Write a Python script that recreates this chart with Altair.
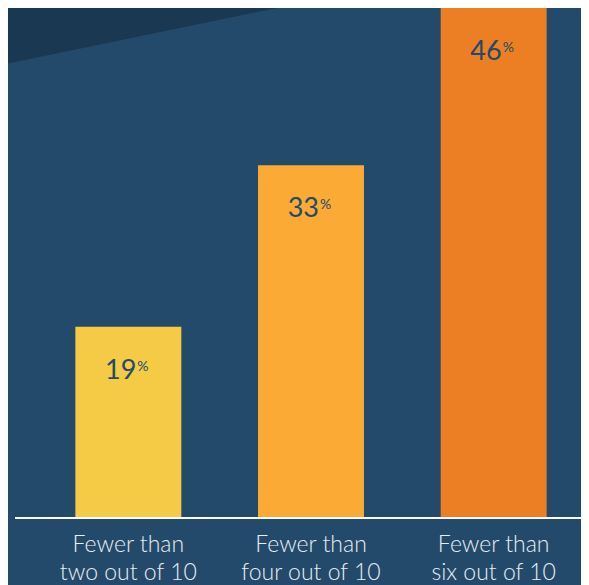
import altair as alt
import pandas as pd

categories = ["Fewer than|two out of 10", "Fewer than|four out of 10", "Fewer than|six out of 10"]
values = [19, 33, 46]
colors = ["#f5ca44", "#fbaa35", "#ec7f24"]

df = pd.DataFrame({"category": categories, "value": values, "color": colors})
one = pd.DataFrame({"k": [0]})

BG = "#244a6b"
NAVY = "#23496b"

x = alt.X(
    "category:N",
    sort=categories,
    scale=alt.Scale(range=[29, 577], paddingInner=0.42, paddingOuter=0.21),
    axis=alt.Axis(
        title=None,
        labelExpr="split(datum.label, '|')",
        labelFont="Lato Light, Lato",
        labelFontSize=23,
        labelFontWeight=300,
        labelColor="#e8edf2",
        labelAngle=0,
        labelPadding=33.7,
        labelBaseline="alphabetic",
        labelLineHeight=28.3,
        ticks=False,
        tickSize=0,
        domain=False,
        grid=False,
    ),
)
y = alt.Y(
    "value:Q",
    scale=alt.Scale(type="pow", exponent=1.11, domain=[0, 46], nice=False, zero=True),
    axis=None,
)

triangle = alt.Chart(one).mark_point(
    shape="M0,0 L0,55.5 L269,0 Z",
    size=4,
    filled=True,
    fill="#1b3852",
    strokeWidth=0,
    opacity=1,
).encode(x=alt.value(0), y=alt.value(0))

bars = alt.Chart(df).mark_bar().encode(
    x=x, y=y, color=alt.Color("color:N", scale=None)
)

nums = alt.Chart(df).mark_text(
    align="right", baseline="alphabetic", dx=8, dy=52,
    font="Lato", fontSize=27, color=NAVY,
).encode(x=x, y=y, text="value:Q")

pct = alt.Chart(df).mark_text(
    align="left", baseline="alphabetic", dx=9, dy=44,
    font="Lato", fontSize=14, color=NAVY,
).encode(x=x, y=y, text=alt.value("%"))

base = alt.Chart(one).mark_rule(color="white", strokeWidth=2).encode(
    y=alt.datum(0), x=alt.value(7), x2=alt.value(573)
)

chart = alt.layer(triangle, bars, nums, pct, base).properties(
    width=573,
    height=510,
    padding={"left": 0, "top": 0, "right": 0, "bottom": 67},
    autosize="none",
    background=BG,
).configure_view(strokeWidth=0)

chart.save("out.html", embed_options={"renderer": "svg", "actions": False})
